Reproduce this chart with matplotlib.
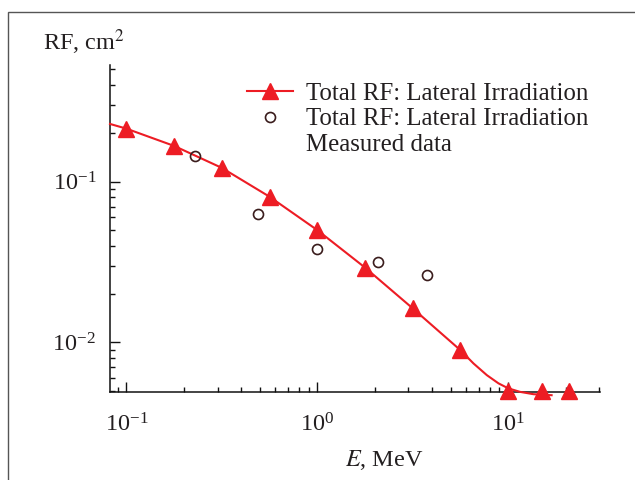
import matplotlib
matplotlib.use("Agg")
import matplotlib.pyplot as plt
from matplotlib.lines import Line2D
from matplotlib.patches import Rectangle

# ---- data ----
tri_x = [0.1, 0.178, 0.316, 0.562, 1.0, 1.78, 3.16, 5.62, 10.0, 15.1, 20.8]
tri_y = [0.214, 0.167, 0.122, 0.0807, 0.050, 0.0292, 0.0163, 0.00895, 0.0050, 0.0050, 0.0050]

curve_x = [0.082, 0.1, 0.178, 0.316, 0.562, 1.0, 1.78, 3.16, 5.62, 6.58, 7.74, 8.90,
           10.0, 11.55, 13.56, 16.9]
curve_y = [0.229, 0.214, 0.167, 0.122, 0.0807, 0.050, 0.0292, 0.0163, 0.00895, 0.0074,
           0.00625, 0.00556, 0.00518, 0.00492, 0.00476, 0.00469]

meas_x = [0.229, 0.49, 1.0, 2.08, 3.78]
meas_y = [0.145, 0.0626, 0.0379, 0.0318, 0.0261]

legend_labels = ["Total RF: Lateral Irradiation", "Total RF: Lateral Irradiation", "Measured data"]
x_label = "$E$, MeV"
y_label = "RF, cm$^2$"

RED = "#ed1c24"
DARK = "#3a1c1c"
TXT = "#231f20"

plt.rcParams["font.family"] = ["Liberation Serif", "DejaVu Serif"]
plt.rcParams["mathtext.fontset"] = "stix"
plt.rcParams["font.size"] = 17.5

fig = plt.figure(figsize=(6.35, 4.8), dpi=100)
fig.patches.append(Rectangle((8 / 635, -0.1), 1.2, 1.1 - 12 / 480, transform=fig.transFigure,
                             fill=False, edgecolor="#555555", linewidth=1.0))

ax = fig.add_axes([110 / 635, 1 - 392.3 / 480, 490 / 635, (392.3 - 65) / 480])
ax.set_xscale("log")
ax.set_yscale("log")
ax.set_xlim(0.082, 30.3)
ax.set_ylim(0.00489, 0.533)

ax.plot(curve_x, curve_y, color=RED, lw=1.5, clip_on=False, zorder=3)
ax.plot(tri_x, tri_y, linestyle="none", marker="^", ms=11, color=RED, mec=RED, clip_on=False, zorder=4)
ax.plot(meas_x, meas_y, linestyle="none", marker="o", ms=7.2, mfc="none", mec=DARK, mew=1.2,
        clip_on=False, zorder=4)

for s in ["top", "right"]:
    ax.spines[s].set_visible(False)
for s in ["left", "bottom"]:
    ax.spines[s].set_linewidth(1.1)
    ax.spines[s].set_color("#111111")

ax.tick_params(which="both", direction="in", colors="#111111", labelcolor=TXT, width=1.0)
ax.tick_params(which="major", length=7.2, labelsize=17.5)
ax.tick_params(which="minor", length=3.6)
ax.tick_params(axis="x", which="major", pad=15)
ax.tick_params(axis="y", which="major", pad=10)

fig.text(43 / 635, 1 - 50 / 480, y_label, color=TXT, fontsize=17.5, ha="left", va="baseline")
fig.text(384 / 635, 1 - 466 / 480, x_label, color=TXT, fontsize=17.5, ha="center", va="baseline")

handles = [
    Line2D([], [], color=RED, lw=1.5, marker="^", ms=11, mec=RED),
    Line2D([], [], linestyle="none", marker="o", ms=7.2, mfc="none", mec=DARK, mew=1.2),
    Line2D([], [], linestyle="none"),
]
leg = fig.legend(handles, legend_labels, loc="upper left",
                 bbox_to_anchor=(246.7 / 635, 1 - 82.5 / 480), frameon=False,
                 borderpad=0, borderaxespad=0, handlelength=1.85, handletextpad=0.55,
                 labelspacing=0.12, prop={"size": 17.9}, labelcolor=TXT)

fig.savefig("out.png", dpi=100)
